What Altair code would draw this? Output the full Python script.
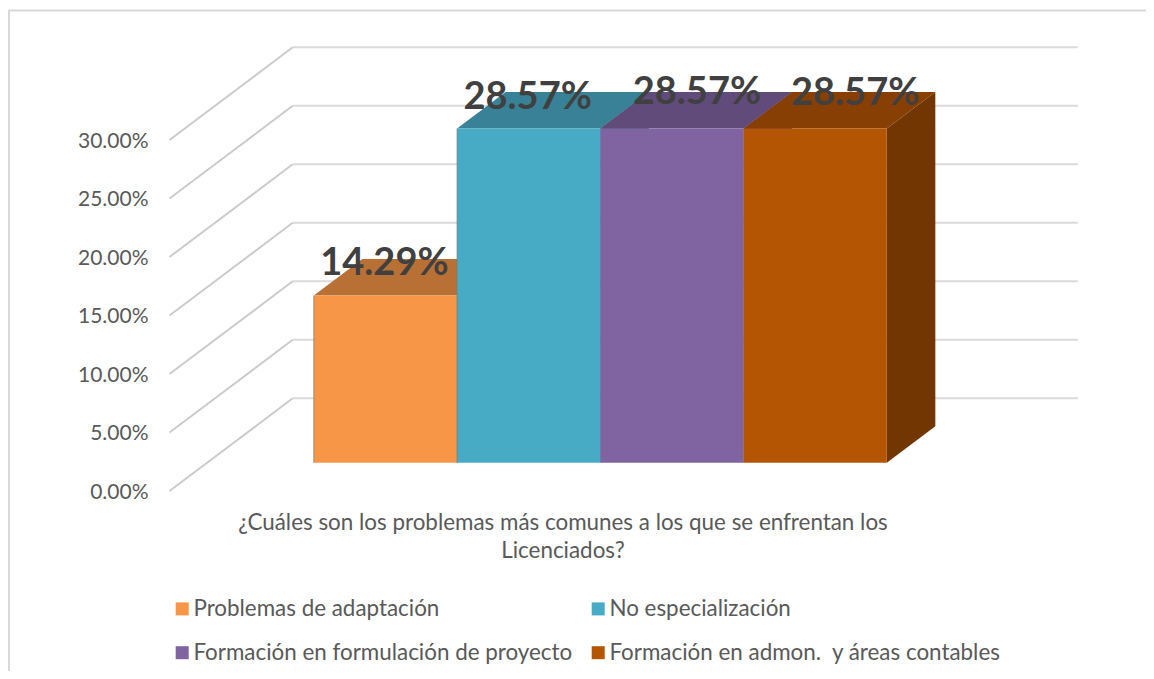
import altair as alt
import pandas as pd

# ---- chart values ----
SERIES = ["Problemas de adaptación", "No especialización",
          "Formación en formulación de proyecto", "Formación en admon.\u00a0 y áreas contables"]
VALUES = [0.1429, 0.2857, 0.2857, 0.2857]
LABELS = ["14.29%", "28.57%", "28.57%", "28.57%"]
TICKS = [0, 0.05, 0.10, 0.15, 0.20, 0.25, 0.30]
TITLE = ["¿Cuáles son los problemas más comunes a los que se enfrentan los", "Licenciados?"]

# ---- styles ----
FRONT = ["#F79646", "#47ABC5", "#8064A2", "#B45504"]
TOP = ["#B97034", "#398197", "#604B7A", "#873F03"]
SIDE = ["#A5642F", "#327285", "#55436C", "#713602"]
FONT = "Lato"
TXT = "#595959"

# ---- layout (oblique 3-D projection, expressed in scale units) ----
W, H = 1138, 663
PX_U = 143.25          # pixels per category
PX_V = 1170.0          # pixels per 100 %
ORIG_X, ORIG_Y = 169.5 - 8, 491.0 - 8   # front-left floor corner inside the view
DEPTH_U = 123.2 / PX_U   # shift at full depth
DEPTH_V = 92.7 / PX_V
Z1, Z2 = 0.305, 0.699    # front/back depth of bars
U_START, U_END = 0.745, 5.48
LABEL_DX = [-1, -1, 25, 40]
LABEL_DY = [-32, -30, -35, -34]

xs = alt.Scale(domain=[-ORIG_X / PX_U, (W - ORIG_X) / PX_U], range=[0, W], nice=False, zero=False)
ys = alt.Scale(domain=[(ORIG_Y - H) / PX_V, ORIG_Y / PX_V], range=[H, 0], nice=False, zero=False)


def proj(u, v, z):
    return u + z * DEPTH_U, v + z * DEPTH_V


def X(f="x", **kw):
    return alt.X(f"{f}:Q", scale=xs, **kw)


def Y(f="y", **kw):
    return alt.Y(f"{f}:Q", scale=ys, **kw)


x_axis = alt.Axis(title=TITLE, labels=False, ticks=False, domain=False, grid=False,
                  titleFont=FONT, titleFontSize=22.4, titleFontWeight="normal", titleColor=TXT,
                  titleX=554.5, titleY=-149, titleAlign="center", titleBaseline="middle",
                  titleLineHeight=28)
y_axis = alt.Axis(title=None, values=TICKS, format=".2%", ticks=False, domain=False, grid=False,
                  labelFont=FONT, labelFontSize=21, labelColor=TXT, labelPadding=0, labelOffset=1,
                  offset=-140)

layers = []

# axes carrier
axis_df = pd.DataFrame({"x": [0.0], "y": [0.0]})
layers.append(alt.Chart(axis_df).mark_point(opacity=0).encode(x=X(axis=x_axis), y=Y(axis=y_axis)))

# walls
side_wall, back_wall = [], []
for t in TICKS:
    for i, z in enumerate([0, 1]):
        px, py = proj(0, t, z)
        side_wall.append({"tick": t, "i": i, "x": px, "y": py})
    for i, u in enumerate([0, U_END]):
        px, py = proj(u, t, 1)
        back_wall.append({"tick": t, "i": i, "x": px, "y": py})
layers.append(alt.Chart(pd.DataFrame(back_wall)).mark_line(color="#DADADA", strokeWidth=2).encode(
    x=X(), y=Y(), detail="tick:N", order="i:Q"))
layers.append(alt.Chart(pd.DataFrame(side_wall)).mark_line(color="#CBCBCB", strokeWidth=2).encode(
    x=X(), y=Y(), detail="tick:N", order="i:Q"))

# bars
for i, (name, val) in enumerate(zip(SERIES, VALUES)):
    ul, ur = U_START + i, U_START + i + 1
    # top face
    a = proj(ul, val, Z1); b = proj(ul, val, Z2); c = proj(ur, val, Z1); d = proj(ur, val, Z2)
    top = pd.DataFrame({"x": [a[0], b[0], c[0], d[0]],
                        "y": [a[1], b[1], b[1], b[1]],
                        "y2": [a[1], a[1], a[1], b[1]]})
    layers.append(alt.Chart(top).mark_area(color=TOP[i], interpolate="linear", orient="vertical").encode(
        x=X(), y=Y(), y2="y2:Q"))
    # right side face
    e = proj(ur, 0, Z1); f = proj(ur, 0, Z2)
    side = pd.DataFrame({"x": [c[0], d[0]], "y": [c[1], d[1]], "y2": [e[1], f[1]]})
    layers.append(alt.Chart(side).mark_area(color=SIDE[i], interpolate="linear", orient="vertical").encode(
        x=X(), y=Y(), y2="y2:Q"))
    # front face
    front = pd.DataFrame({"serie": [name], "x": [a[0]], "x2": [c[0]], "y": [a[1]], "y2": [e[1]]})
    layers.append(alt.Chart(front).mark_rect().encode(
        x=X(), x2="x2:Q", y=Y(), y2="y2:Q",
        color=alt.Color("serie:N", scale=alt.Scale(domain=SERIES, range=FRONT), legend=alt.Legend(
            title=None, orient="none", legendX=163, legendY=589.5, direction="horizontal", columns=2,
            symbolType="square", symbolSize=169, symbolStrokeWidth=0, labelFont=FONT, labelFontSize=22.4,
            labelColor=TXT, labelLimit=600, labelOffset=0, rowPadding=21, columnPadding=14,
            padding=0))))
    # darker left edge of the first two bars
    if i < 2:
        layers.append(alt.Chart(front).mark_rule(color="#6F7F80", strokeWidth=1, opacity=0.7).encode(
            x=X(), y=Y(), y2="y2:Q"))

# data labels
for i, (lab, val) in enumerate(zip(LABELS, VALUES)):
    px, py = proj(U_START + i + 0.5, val, Z1)
    df = pd.DataFrame({"x": [px], "y": [py], "t": [lab]})
    layers.append(alt.Chart(df).mark_text(font=FONT, fontWeight="bold", fontSize=38, color="#404040",
                                          align="center", baseline="middle",
                                          dx=LABEL_DX[i], dy=LABEL_DY[i]).encode(x=X(), y=Y(), text="t:N"))

# outer frame
frame = alt.Chart(axis_df).mark_rect(fill=None, stroke="#D9D9D9", strokeWidth=2).encode(
    x=alt.value(1), x2=alt.value(1300), y=alt.value(2.5), y2=alt.value(800))
layers.insert(0, frame)

chart = alt.layer(*layers).properties(
    width=W, height=H, padding=0, autosize=alt.AutoSizeParams(type="none"), background="white"
).configure_view(stroke=None)

chart.save("out.html", embed_options={"renderer": "svg", "actions": False})
